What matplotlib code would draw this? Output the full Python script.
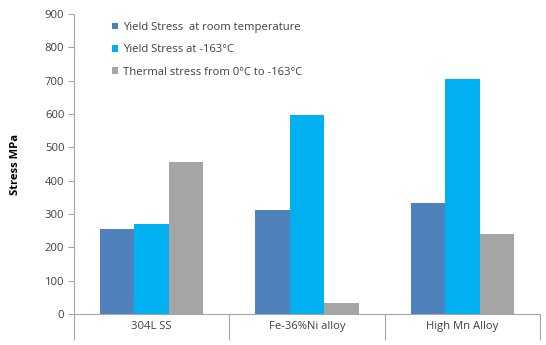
import numpy as np
import matplotlib.pyplot as plt

categories = ["304L SS", "Fe-36%Ni alloy", "High Mn Alloy"]
series_names = ["Yield Stress  at room temperature",
                "Yield Stress at -163°C",
                "Thermal stress from 0°C to -163°C"]
yield_room = [255, 312, 332]
yield_cold = [270, 597, 705]
thermal = [455, 33, 240]
colors = ["#4F81BD", "#00B0F0", "#A5A5A5"]

plt.rcParams['font.family'] = ['Open Sans', 'DejaVu Sans']
txt = "#404040"
fs = 8.1

fig = plt.figure(figsize=(5.46, 3.45), dpi=100)
ax = fig.add_axes([74 / 546, 1 - 314 / 345, (540 - 74) / 546, (314 - 14) / 345])

x = np.arange(len(categories))
w = 1 / 4.5
for i, vals in enumerate([yield_room, yield_cold, thermal]):
    ax.bar(x + (i - 1) * w, vals, width=w, color=colors[i], label=series_names[i])

ax.set_xlim(-0.5, len(categories) - 0.5)
ax.set_ylim(0, 900)
ax.set_yticks(np.arange(0, 901, 100))

# category dividers drawn as long major ticks, labels on minor ticks
ax.set_xticks(np.arange(-0.5, len(categories), 1.0))
ax.set_xticklabels([])
ax.tick_params(axis='x', which='major', length=19, width=0.8, color="#A6A6A6")
ax.set_xticks(x, minor=True)
ax.set_xticklabels(categories, minor=True)
ax.tick_params(axis='x', which='minor', length=0, pad=5, labelsize=fs, labelcolor=txt)
ax.tick_params(axis='y', length=4, width=0.8, color="#A6A6A6", labelsize=fs,
               labelcolor=txt, pad=3)

for s in ['top', 'right']:
    ax.spines[s].set_visible(False)
for s in ['left', 'bottom']:
    ax.spines[s].set_color("#A6A6A6")
    ax.spines[s].set_linewidth(0.8)

ax.set_ylabel("Stress MPa", fontsize=fs, fontweight='bold', color="black", labelpad=17)

leg = ax.legend(loc='upper left', bbox_to_anchor=(0.06, 1.007), frameon=False,
                fontsize=fs, handlelength=0.55, handleheight=0.55, handletextpad=0.4,
                labelspacing=1.0, labelcolor=txt)

fig.savefig("out.png", dpi=100)
